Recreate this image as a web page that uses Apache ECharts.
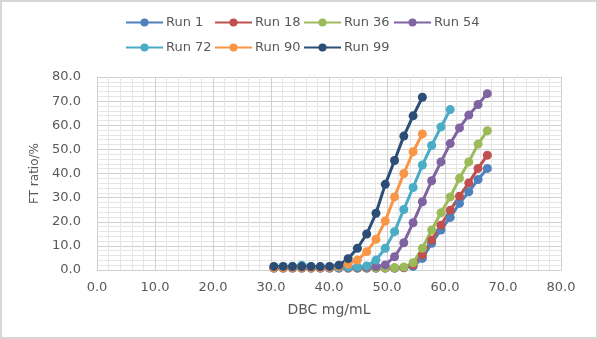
<!DOCTYPE html>
<html>
<head>
<meta charset="utf-8">
<script src="https://cdn.jsdelivr.net/npm/echarts@6/dist/echarts.min.js"></script>
<style>
html,body{margin:0;padding:0;background:#fff;}
#wrap{position:relative;width:598px;height:339px;}
#chart{position:absolute;left:0;top:0;width:598px;height:339px;}
#frame{position:absolute;left:0;top:0;width:598px;height:339px;box-sizing:border-box;border:2px solid #d6d6d6;pointer-events:none;}
</style>
</head>
<body>
<div id="wrap"><div id="chart"></div><div id="frame"></div></div>
<script>
// DBC (mg/mL) sample points shared by all runs
var dbc = [30.5, 32.1, 33.7, 35.3, 36.9, 38.5, 40.1, 41.7, 43.3, 44.9, 46.5, 48.1,
           49.7, 51.3, 52.9, 54.5, 56.1, 57.7, 59.3, 60.9, 62.5, 64.1, 65.7, 67.3];

var seriesNames = ['Run 1', 'Run 18', 'Run 36', 'Run 54', 'Run 72', 'Run 90', 'Run 99'];

// FT ratio (%) per run
var run1  = [0.8, 0.8, 0.8, 0.8, 0.8, 0.8, 0.8, 0.8, 0.8, 0.8, 0.8, 0.8, 0.8, 0.8, 0.9, 1.5, 4.8, 11.1, 16.6, 21.8, 27.6, 32.4, 37.5, 42.1];
var run18 = [0.8, 0.8, 0.8, 0.8, 0.8, 0.8, 0.8, 0.8, 0.8, 0.8, 0.8, 0.8, 0.8, 0.8, 1.0, 2.1, 6.2, 12.4, 18.6, 24.8, 30.6, 36.1, 42.1, 47.6];
var run36 = [0.9, 0.9, 0.9, 0.9, 0.9, 0.9, 0.9, 0.9, 0.9, 0.9, 0.9, 0.9, 0.9, 0.9, 1.2, 3.0, 9.0, 16.6, 23.7, 30.3, 38.0, 44.8, 52.2, 57.7];
var run54 = [1.0, 1.0, 1.0, 1.0, 1.0, 1.0, 1.0, 1.0, 1.0, 1.0, 1.1, 1.4, 2.1, 5.5, 11.3, 19.6, 28.3, 37.0, 44.8, 52.4, 58.9, 64.2, 68.6, 73.1];
var run72 = [1.2, 1.4, 1.6, 2.0, 1.5, 1.3, 1.2, 1.1, 1.2, 1.3, 1.7, 4.1, 9.0, 15.9, 25.1, 34.2, 43.5, 51.6, 59.3, 66.5];
var run90 = [1.0, 1.0, 1.1, 1.1, 1.0, 1.0, 1.1, 1.5, 2.5, 4.1, 7.6, 12.7, 20.3, 30.3, 40.0, 49.0, 56.4];
var run99 = [1.5, 1.5, 1.4, 1.4, 1.4, 1.4, 1.5, 2.0, 4.7, 9.0, 14.9, 23.5, 35.5, 45.4, 55.5, 63.9, 71.6];

var xTicks = [0, 10, 20, 30, 40, 50, 60, 70, 80];
var yTicks = [0, 10, 20, 30, 40, 50, 60, 70, 80];

var colors = ['#4F81BD', '#C0504D', '#9BBB59', '#8064A2', '#4BACC6', '#F79646', '#2C4D75'];
var allRuns = [run1, run18, run36, run54, run72, run90, run99];

function pairs(vals) {
  return vals.map(function (v, i) { return [dbc[i], v]; });
}

var txt = '#595959';
var font = 'DejaVu Sans';

var series = seriesNames.map(function (name, k) {
  return {
    name: name,
    type: 'line',
    data: pairs(allRuns[k]),
    symbol: 'circle',
    symbolSize: 9,
    showSymbol: true,
    lineStyle: { width: 3, color: colors[k] },
    itemStyle: { color: colors[k] },
    emphasis: { disabled: true },
    animation: false
  };
});

// legend positions (two rows, Excel-like fixed columns)
var legendPos = [
  [125, 16], [214, 16], [303, 16], [393, 16],
  [125, 41], [214, 41], [303, 41]
];
var legends = seriesNames.map(function (name, k) {
  return {
    data: [name],
    left: legendPos[k][0],
    top: legendPos[k][1],
    itemWidth: 37,
    itemHeight: 10,
    padding: 0,
    selectedMode: false,
    textStyle: { color: txt, fontFamily: font, fontSize: 13, padding: [0, 0, 0, -2] }
  };
});

var chart = echarts.init(document.getElementById('chart'), null, { renderer: 'canvas' });
chart.setOption({
  animation: false,
  color: colors,
  legend: legends,
  grid: { left: 97, right: 37, top: 77, bottom: 69, containLabel: false },
  xAxis: {
    type: 'value',
    min: xTicks[0],
    max: xTicks[xTicks.length - 1],
    interval: 10,
    name: 'DBC mg/mL',
    nameLocation: 'middle',
    nameGap: 33,
    nameTextStyle: { color: txt, fontFamily: font, fontSize: 14 },
    axisLine: { show: true, lineStyle: { color: '#d0d0d0', width: 1 } },
    axisTick: { show: false },
    axisLabel: {
      color: txt, fontFamily: font, fontSize: 13, margin: 11,
      formatter: function (v) { return v.toFixed(1); }
    },
    splitLine: { show: true, lineStyle: { color: '#d0d0d0', width: 1 } },
    minorTick: { show: false, splitNumber: 5 },
    minorSplitLine: { show: true, lineStyle: { color: '#e6e6e6', width: 1 } }
  },
  yAxis: {
    type: 'value',
    min: yTicks[0],
    max: yTicks[yTicks.length - 1],
    interval: 10,
    name: 'FT ratio/%',
    nameLocation: 'middle',
    nameRotate: 90,
    nameGap: 55,
    nameTextStyle: { color: txt, fontFamily: font, fontSize: 12 },
    axisLine: { show: true, lineStyle: { color: '#d0d0d0', width: 1 } },
    axisTick: { show: false },
    axisLabel: {
      color: txt, fontFamily: font, fontSize: 13, margin: 16,
      formatter: function (v) { return v.toFixed(1); }
    },
    splitLine: { show: true, lineStyle: { color: '#d0d0d0', width: 1 } },
    minorTick: { show: false, splitNumber: 5 },
    minorSplitLine: { show: true, lineStyle: { color: '#e6e6e6', width: 1 } }
  },
  series: series
});
</script>
</body>
</html>
